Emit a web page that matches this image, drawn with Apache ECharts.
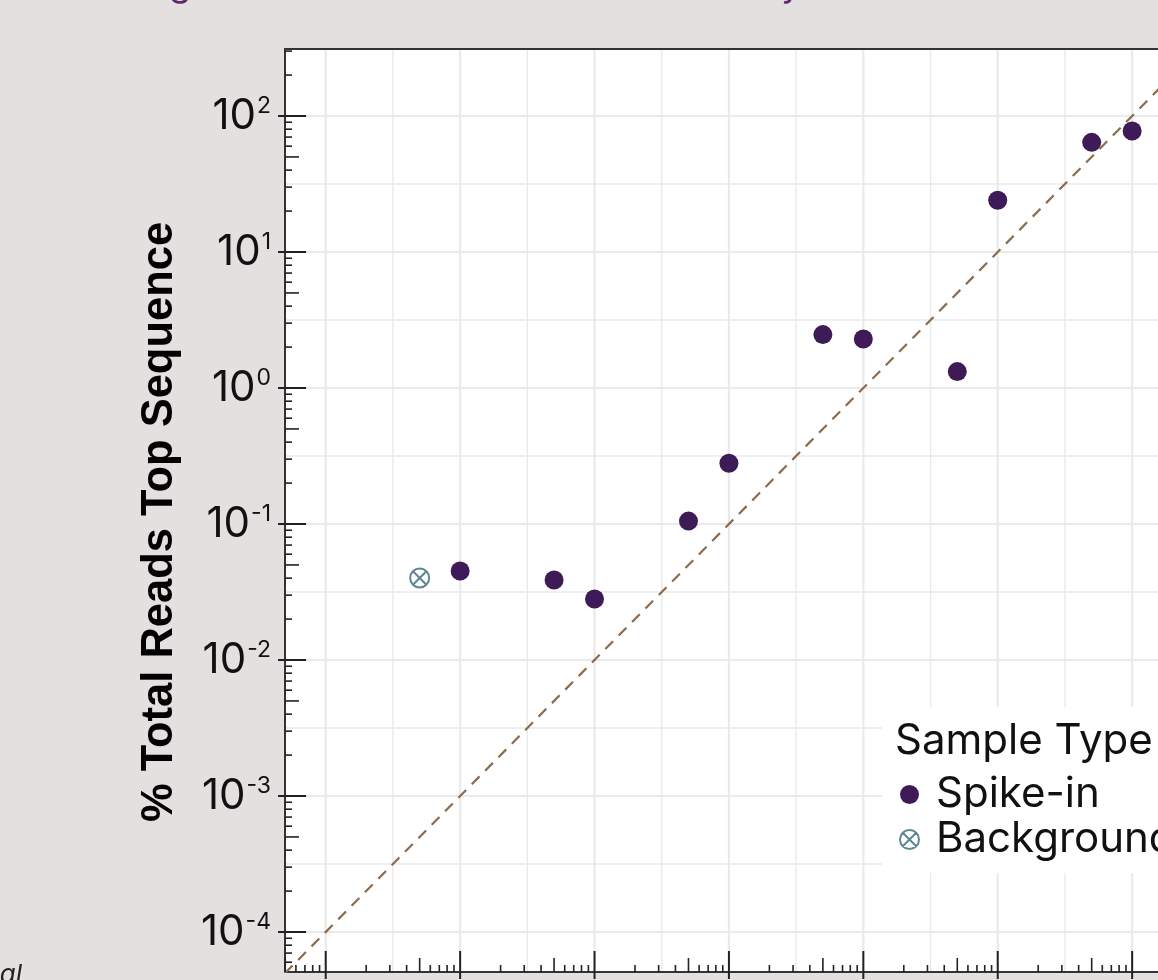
<!DOCTYPE html>
<html><head><meta charset="utf-8">
<script src="https://cdn.jsdelivr.net/npm/echarts@6/dist/echarts.min.js"></script>
<style>html,body{margin:0;padding:0;background:#E4E0DF;overflow:hidden}#c{width:1158px;height:980px}</style>
</head><body><div id="c"></div>
<script>
// ---- data ----
const spikeX = [0.001, 0.005, 0.01, 0.05, 0.1, 0.5, 1, 5, 10, 50, 100];
const spikeY = [0.0451, 0.0388, 0.0281, 0.105, 0.28, 2.47, 2.29, 1.32, 24.0, 64.0, 77.6];
const backgroundX = [0.0005];
const backgroundY = [0.0401];
const identityLine = [1e-5, 1e3];
// tick scaffolding
const decadeExponents = [-5, -4, -3, -2, -1, 0, 1, 2, 3];
const logMantissas = [1, 2, 3, 4, 5, 6, 7, 8, 9];
const halfDecadeExponents = [-4.5, -3.5, -2.5, -1.5, -0.5, 0.5, 1.5, 2.5];

const X_MIN = Math.pow(10, -4.303), X_MAX = Math.pow(10, 2.49);
const Y_MIN = Math.pow(10, -4.294), Y_MAX = Math.pow(10, 2.4926);

function inRange(v, lo, hi) { return v >= lo * 0.9999 && v <= hi * 1.0001; }
const xTicks = [], yTicks = [];
decadeExponents.forEach(e => logMantissas.forEach(m => {
  const v = m * Math.pow(10, e);
  if (inRange(v, X_MIN, X_MAX)) xTicks.push([v, 1, m]);
  if (inRange(v, Y_MIN, Y_MAX)) yTicks.push([1, v, m]);
}));
const xGrid = [], yGrid = [];
decadeExponents.forEach(e => {
  const v = Math.pow(10, e);
  if (v > X_MIN && v < X_MAX) xGrid.push([v, 1, 2]);
  if (v > Y_MIN && v < Y_MAX) yGrid.push([1, v, 2]);
});
halfDecadeExponents.forEach(e => {
  const v = Math.pow(10, e);
  if (v > X_MIN && v < X_MAX) xGrid.push([v, 1, 1]);
  if (v > Y_MIN && v < Y_MAX) yGrid.push([1, v, 1]);
});

const FONT = 'Inter';
const INK = '#333333';
function powLabel(v) {
  const e = Math.log10(v), r = Math.round(e);
  if (Math.abs(e - r) > 1e-6) return '';
  return '{b|10}{s|' + r + '}';
}
const labelRich = {
  b: { fontFamily: FONT, fontSize: 42, color: '#111', verticalAlign: 'bottom' },
  s: { fontFamily: FONT, fontSize: 23, color: '#111', verticalAlign: 'top', padding: [0, 0, 0, 1] }
};

const chart = echarts.init(document.getElementById('c'));
chart.setOption({
  backgroundColor: '#E4E0DF',
  animation: false,
  grid: {
    left: 285, top: 49, width: 913, height: 923,
    show: true, backgroundColor: '#ffffff', borderColor: INK, borderWidth: 2,
    containLabel: false, outerBoundsMode: 'none'
  },
  xAxis: {
    type: 'log', logBase: 10, min: X_MIN, max: X_MAX,
    axisLine: { show: false }, axisTick: { show: false }, splitLine: { show: false },
    axisLabel: { margin: 14, formatter: powLabel, rich: labelRich }
  },
  yAxis: {
    type: 'log', logBase: 10, min: Y_MIN, max: Y_MAX,
    axisLine: { show: false }, axisTick: { show: false }, splitLine: { show: false },
    axisLabel: { margin: 14, formatter: powLabel, rich: labelRich }
  },
  legend: {
    orient: 'vertical', left: 894, top: 767, z: 5,
    itemWidth: 19, itemHeight: 19, itemGap: 0,
    textStyle: { fontFamily: FONT, fontSize: 42, color: '#111', lineHeight: 45, padding: [0, 0, 0, 12] },
    data: ['Spike-in', 'Background'],
    selectedMode: false
  },
  graphic: [
    { type: 'rect', z: 3, shape: { x: 882, y: 707, width: 320, height: 166 }, style: { fill: '#ffffff' } },
    { type: 'text', z: 6, x: 895, y: 741, style: { text: 'Sample Type', fontFamily: FONT, fontSize: 42, fill: '#111', align: 'left', verticalAlign: 'middle' } },
    { type: 'text', z: 6, x: 160, y: 522, rotation: Math.PI / 2, style: { text: '% Total Reads Top Sequence', fontFamily: 'Liberation Sans', fontWeight: 'bold', fontSize: 43.5, fill: '#000', align: 'center', verticalAlign: 'middle' } },
    { type: 'text', z: 6, x: 52, y: 3, style: { text: 'Seeding Level Detected versus Total Library Reads', fontFamily: FONT, fontSize: 36, fill: '#5E2A6E', align: 'left', verticalAlign: 'bottom' } },
    { type: 'text', z: 6, x: 22, y: 988, style: { text: 'Theoretical', fontFamily: FONT, fontStyle: 'italic', fontSize: 26, fill: '#222', align: 'right', verticalAlign: 'bottom' } }
  ],
  series: [
    {
      name: 'gridX', type: 'custom', z: 1, silent: true, data: xGrid, encode: { x: 0, y: 1 },
      renderItem: (params, api) => {
        const cs = params.coordSys;
        const x = api.coord([api.value(0), 1])[0];
        return { type: 'line', shape: { x1: x, y1: cs.y + 1, x2: x, y2: cs.y + cs.height - 1 }, style: { stroke: '#EAEAEA', lineWidth: api.value(2) === 2 ? 2.2 : 1.4 } };
      }
    },
    {
      name: 'gridY', type: 'custom', z: 1, silent: true, data: yGrid, encode: { x: 0, y: 1 },
      renderItem: (params, api) => {
        const cs = params.coordSys;
        const y = api.coord([1, api.value(1)])[1];
        return { type: 'line', shape: { x1: cs.x + 1, y1: y, x2: cs.x + cs.width - 1, y2: y }, style: { stroke: '#EAEAEA', lineWidth: api.value(2) === 2 ? 2.2 : 1.4 } };
      }
    },
    {
      name: 'ticksX', type: 'custom', z: 4, silent: true, data: xTicks, encode: { x: 0, y: 1 },
      renderItem: (params, api) => {
        const cs = params.coordSys;
        const x = api.coord([api.value(0), 1])[0];
        const m = api.value(2);
        const len = m === 1 ? 21 : (m === 5 ? 14 : 7);
        const y0 = cs.y + cs.height;
        return { type: 'line', shape: { x1: x, y1: m === 1 ? y0 + 7 : y0, x2: x, y2: y0 - len }, style: { stroke: '#222', lineWidth: m === 1 ? 2 : 1.6 } };
      }
    },
    {
      name: 'ticksY', type: 'custom', z: 4, silent: true, data: yTicks, encode: { x: 0, y: 1 },
      renderItem: (params, api) => {
        const cs = params.coordSys;
        const y = api.coord([1, api.value(1)])[1];
        const m = api.value(2);
        const len = m === 1 ? 21 : (m === 5 ? 14 : 7);
        const x0 = cs.x;
        return { type: 'line', shape: { x1: m === 1 ? x0 - 7 : x0, y1: y, x2: x0 + len, y2: y }, style: { stroke: '#222', lineWidth: m === 1 ? 2 : 1.6 } };
      }
    },
    {
      name: 'identity', type: 'line', z: 2, silent: true, symbol: 'none', clip: true,
      data: identityLine.map(v => [v, v]),
      lineStyle: { color: '#8C6B4C', width: 2.2, type: [11, 8] }
    },
    {
      name: 'Spike-in', type: 'scatter', z: 3, symbol: 'circle', symbolSize: 19,
      data: spikeX.map((x, i) => [x, spikeY[i]]),
      itemStyle: { color: '#3E1B57', opacity: 1 }
    },
    {
      name: 'Background', type: 'scatter', z: 3, symbolSize: 19,
      symbol: 'path://M1,10A9,9,0,1,1,19,10A9,9,0,1,1,1,10ZM3.64,3.64L16.36,16.36M16.36,3.64L3.64,16.36',
      data: backgroundX.map((x, i) => [x, backgroundY[i]]),
      itemStyle: { color: 'rgba(0,0,0,0)', borderColor: '#5F8793', borderWidth: 2, opacity: 1 }
    }
  ]
});
</script>
</body></html>
